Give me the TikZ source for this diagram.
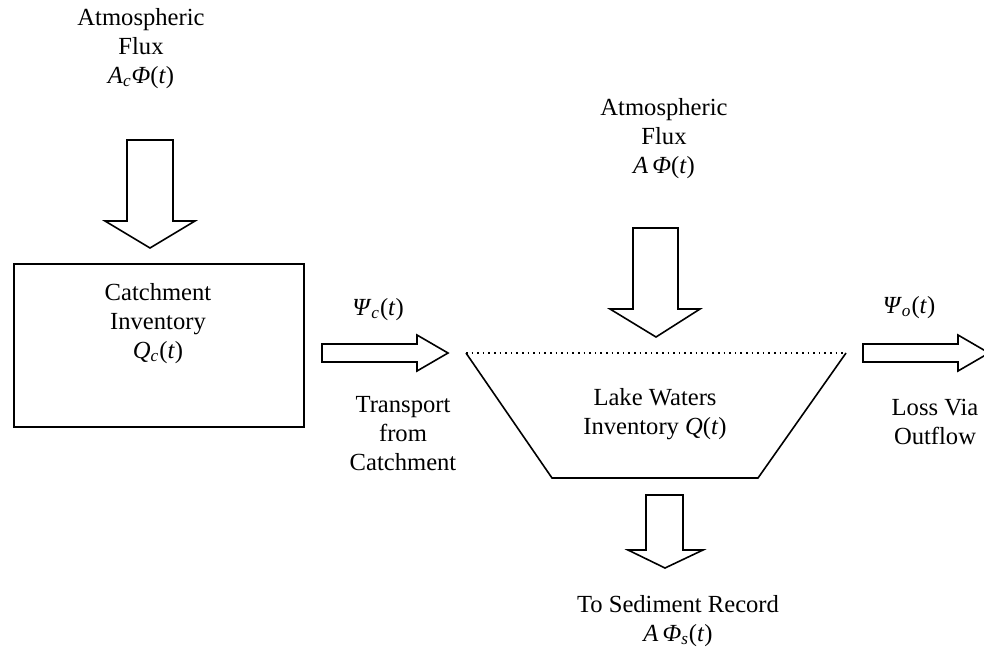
\documentclass[tikz,border=0pt]{standalone}
\usepackage{fontspec}
\setmainfont{Liberation Serif}
\usetikzlibrary{positioning}
\newcommand{\tv}[1]{\textit{#1}}
\newcommand{\sub}[1]{\textsubscript{\textit{#1}}}

\begin{document}
\begin{tikzpicture}[
    x=0.5pt, y=-0.5pt,
    %% ── styles ──────────────────────────────────────────────────────────────
    label/.style={align=center, anchor=base, inner sep=0pt,
        font=\fontsize{12.3}{14.4}\selectfont},
    blockarrow/.style={draw=black, line width=0.8pt, fill=white,
        line join=miter},
    reservoir/.style={draw=black, line width=0.8pt},
]
\useasboundingbox (0,0) rectangle (984,654);
\clip (0,0) rectangle (984,654);

%% ── Catchment ────────────────────────────────────────────────────────────
\node[label] (atmc) at (141,83) {Atmospheric\\Flux\\\tv{A}\sub{c}\tv{Φ}(\tv{t})};
\draw[blockarrow] (127,140) -- (173,140) -- (173,221) -- (195,221)
    -- (150,248) -- (105,221) -- (127,221) -- cycle;

\node[reservoir, minimum width=145pt, minimum height=81.5pt,
      inner sep=0pt] (catch) at (159,345.5) {};
\node[label] (catchtxt) at (158,358) {Catchment\\Inventory\\\tv{Q}\sub{c}(\tv{t})};

%% ── Transport from catchment ──────────────────────────────────────────────
\node[label] (psic) at (378,315) {\tv{Ψ}\sub{c}(\tv{t})};
\draw[blockarrow] (322,344) -- (417,344) -- (417,335) -- (448,353)
    -- (417,371) -- (417,362) -- (322,362) -- cycle;
\node[label] (transp) at (403,470) {Transport\\from\\Catchment};

%% ── Lake ────────────────────────────────────────────────────────────────
\coordinate (lakeTL) at (466,353);
\coordinate (lakeTR) at (846,353);
\coordinate (lakeBL) at (552,478);
\coordinate (lakeBR) at (758,478);
\draw[reservoir] (lakeTL) -- (lakeBL) -- (lakeBR) -- (lakeTR);
\draw[dotted, line width=0.8pt] (lakeTL) -- (lakeTR);
\node[label] (laketxt) at (655,434) {Lake Waters\\Inventory \tv{Q}(\tv{t})};

\node[label] (atml) at (664,173) {Atmospheric\\Flux\\\tv{A}\,\tv{Φ}(\tv{t})};
\draw[blockarrow] (633,228) -- (678,228) -- (678,309) -- (700,309)
    -- (656,337) -- (610,309) -- (633,309) -- cycle;

%% ── Outflow ──────────────────────────────────────────────────────────────
\node[label] (psio) at (909,313) {\tv{Ψ}\sub{o}(\tv{t})};
\draw[blockarrow] (863,344) -- (958,344) -- (958,335) -- (989,353)
    -- (958,371) -- (958,362) -- (863,362) -- cycle;
\node[label] (loss) at (935,444) {Loss Via\\Outflow};

%% ── Sediment ─────────────────────────────────────────────────────────────
\draw[blockarrow] (646,495) -- (683,495) -- (683,550) -- (703,550)
    -- (665,568) -- (628,550) -- (646,550) -- cycle;
\node[label] (sed) at (678,641) {To Sediment Record\\\tv{A}\,\tv{Φ}\sub{s}(\tv{t})};

\end{tikzpicture}
\end{document}
